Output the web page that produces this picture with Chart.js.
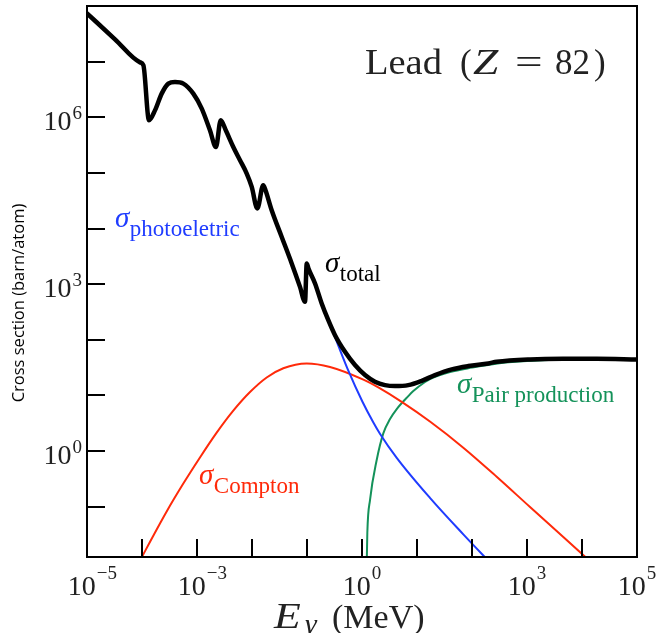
<!DOCTYPE html>
<html>
<head>
<meta charset="utf-8">
<script src="https://cdn.jsdelivr.net/npm/chart.js@4.4.1/dist/chart.umd.min.js"></script>
<style>
html,body{margin:0;padding:0;background:#fff;overflow:hidden}
#c{display:block}
</style>
</head>
<body>
<canvas id="c" width="661" height="633" style="width:661px;height:633px"></canvas>
<script>
// ---- axes ----
const xRange = [1e-5, 1e5];
const yRange = [0.01245, 1e8];
const xTickValues = [1e-4, 1e-3, 1e-2, 1e-1, 1e0, 1e1, 1e2, 1e3, 1e4];
const yTickValues = [1e-1, 1e0, 1e1, 1e2, 1e3, 1e4, 1e5, 1e6, 1e7];
const xLabelExponents = [-5, -3, 0, 3, 5];
const yLabelExponents = [0, 3, 6];

// ---- series (energy in MeV, cross section in barn/atom) ----
const totalEnergy = [1e-5, 3.23e-5, 9.20e-5, 1.06e-4, 1.34e-4, 1.72e-4, 2.28e-4, 3.01e-4, 3.98e-4, 5.64e-4,
  8.57e-4, 1.22e-3, 1.72e-3, 2.21e-3, 2.70e-3, 3.37e-3, 4.57e-3, 6.05e-3, 8.02e-3, 9.89e-3,
  1.25e-2, 1.60e-2, 1.76e-2, 2.28e-2, 3.47e-2, 5.27e-2, 7.46e-2, 9.20e-2, 9.89e-2, 0.1064,
  0.140, 0.185, 0.244, 0.323, 0.491, 0.746, 1.135, 1.72, 2.62, 3.98,
  6.95, 12.2, 21.2, 42.8, 85.7, 198, 281, 1135, 4520, 18500, 1e5];
const totalSigma = [7.38e7, 2.52e7, 9.72e6, 8.59e6, 8.83e5, 1.33e6, 2.66e6, 4.03e6, 4.31e6, 4.03e6,
  2.66e6, 1.43e6, 5.83e5, 2.92e5, 8.83e5, 5.71e5, 2.92e5, 1.69e5, 9.73e4, 5.60e4,
  2.29e4, 6.00e4, 4.88e4, 2.13e4, 7.06e3, 2.36e3, 893, 481, 2360, 1900,
  1028, 450, 225, 121, 60.8, 35.1, 23.2, 17.6, 15.3, 14.7,
  15.3, 18.3, 23.2, 29.4, 33.7, 37.6, 40.2, 44.4, 45.5, 45.5, 44.4];

const photoEnergy = [9.89e-2, 0.140, 0.185, 0.244, 0.371, 0.564, 1.02, 1.60, 2.12, 4.28, 17.2, 69.5, 177, 323];
const photoSigma  = [2355, 964, 469, 230, 78.5, 27.9, 7.69, 3.29, 2.05, 0.755, 0.144, 0.0318, 0.0120, 0.00646];

const comptonEnergy = [8.32e-5, 9.89e-5, 2.81e-4, 5.64e-4, 1.14e-3, 2.28e-3, 4.57e-3, 9.20e-3, 1.85e-2, 3.71e-2,
  9.89e-2, 0.262, 1.06, 1.98, 5.27, 17.2, 69.5, 281, 1135, 4571, 11670, 15850];
const comptonSigma = [8.9e-3, 0.0123, 0.0819, 0.260, 0.774, 2.14, 5.32, 11.5, 21.0, 30.8,
  37.6, 32.5, 19.2, 13.9, 7.65, 3.39, 1.15, 0.345, 0.0986, 0.0285, 0.0123, 0.00933];

const pairEnergy = [1.21, 1.25, 1.40, 1.85, 2.44, 3.23, 4.28, 6.95, 8.57, 14.0, 17.2, 39.8, 100, 316, 1000, 1e4, 1e5];
const pairSigma  = [0.00631, 0.0339, 0.132, 0.689, 2.08, 3.76, 5.68, 9.72, 12.0, 17.4, 19.7, 26.3, 31.6, 38.0, 41.7, 44.2, 43.7];

// ---- styles ----
const BLUE = '#1f3cff', RED = '#ff2a0a', GREEN = '#14925a';
const SERIF = '"Liberation Serif", "Times New Roman", serif';

function series(E, S, color, width) {
  return {
    data: E.map((e, i) => ({x: e, y: S[i]})),
    borderColor: color, borderWidth: width, fill: false,
    pointRadius: 0, tension: 0.4,
    cubicInterpolationMode: 'monotone',
    borderJoinStyle: 'round', borderCapStyle: 'round', clip: 0
  };
}

function drawPow(ctx, exp, x, baseY, expY, align) {
  const base = '10';
  const expStr = exp < 0 ? '\u2212' + Math.abs(exp) : String(exp);
  const digits = String(Math.abs(exp));
  ctx.font = '28px ' + SERIF;
  const wb = ctx.measureText(base).width;
  ctx.font = '19px ' + SERIF;
  const wd = ctx.measureText(digits).width;
  const wFull = ctx.measureText(expStr).width;
  let start;
  if (align === 'center') start = x - (wb + 1 + wd) / 2;
  else start = x - (wb + 1 + wFull);
  ctx.textAlign = 'left';
  ctx.textBaseline = 'alphabetic';
  ctx.font = '28px ' + SERIF;
  ctx.fillText(base, start, baseY);
  ctx.font = '19px ' + SERIF;
  ctx.fillText(expStr, start + wb + 1, expY);
}

function drawWide(ctx, text, x, y, font, sx) {
  ctx.save();
  ctx.font = font;
  ctx.translate(x, y);
  ctx.scale(sx, 1);
  ctx.fillText(text, 0, 0);
  ctx.restore();
}

function drawSigma(ctx, x, y, sub, color) {
  ctx.fillStyle = color;
  ctx.textAlign = 'left';
  ctx.textBaseline = 'alphabetic';
  ctx.font = 'italic 29px ' + SERIF;
  ctx.fillText('\u03c3', x, y);
  const w = ctx.measureText('\u03c3').width;
  ctx.font = '23px ' + SERIF;
  ctx.fillText(sub, x + w + 0.5, y + 9);
}

const axesPlugin = {
  id: 'axesBox',
  afterDraw(chart) {
    const {ctx, chartArea: a, scales: {x, y}} = chart;
    ctx.save();
    ctx.strokeStyle = '#000';
    ctx.lineWidth = 2;
    ctx.strokeRect(a.left, a.top, a.right - a.left, a.bottom - a.top);
    ctx.beginPath();
    xTickValues.forEach(v => {
      const px = Math.round(x.getPixelForValue(v));
      ctx.moveTo(px, a.bottom); ctx.lineTo(px, a.bottom - 18);
    });
    yTickValues.forEach(v => {
      const py = Math.round(y.getPixelForValue(v));
      ctx.moveTo(a.left, py); ctx.lineTo(a.left + 18, py);
    });
    ctx.stroke();

    ctx.fillStyle = '#222';
    xLabelExponents.forEach(e => {
      const px = x.getPixelForValue(Math.pow(10, e));
      drawPow(ctx, e, px, a.bottom + 38, a.bottom + 22, 'center');
    });
    yLabelExponents.forEach(e => {
      const py = y.getPixelForValue(Math.pow(10, e));
      drawPow(ctx, e, a.left - 5, py + 13, py + 2, 'right');
    });

    // x axis title
    ctx.fillStyle = '#222';
    ctx.textAlign = 'left';
    ctx.textBaseline = 'alphabetic';
    drawWide(ctx, 'E', 274, 628, 'italic 35px ' + SERIF, 1.25);
    drawWide(ctx, '\u03b3', 305, 633, 'italic 27px ' + SERIF, 1.1);
    drawWide(ctx, '(MeV)', 332, 628, '34px ' + SERIF, 1.0);

    // y axis title
    ctx.save();
    ctx.translate(24, 303);
    ctx.rotate(-Math.PI / 2);
    ctx.textAlign = 'center';
    ctx.font = '16.5px "Open Sans", sans-serif';
    ctx.fillStyle = '#000';
    ctx.fillText('Cross section (barn/atom)', 0, 0);
    ctx.restore();

    // element label
    ctx.fillStyle = '#222';
    ctx.textAlign = 'left';
    drawWide(ctx, 'Lead', 365, 74, '35px ' + SERIF, 1.1);
    drawWide(ctx, '(', 460, 74, '35px ' + SERIF, 1.0);
    drawWide(ctx, 'Z', 473, 74, 'italic 35px ' + SERIF, 1.3);
    drawWide(ctx, '=', 515, 74, '35px ' + SERIF, 1.4);
    drawWide(ctx, '82', 555, 74, '35px ' + SERIF, 1.0);
    drawWide(ctx, ')', 594, 74, '35px ' + SERIF, 1.0);

    drawSigma(ctx, 115, 227, 'photoeletric', BLUE);
    drawSigma(ctx, 325, 272, 'total', '#000');
    drawSigma(ctx, 199, 484, 'Compton', RED);
    drawSigma(ctx, 457, 393, 'Pair production', GREEN);
    ctx.restore();
  }
};

new Chart(document.getElementById('c'), {
  type: 'line',
  data: {
    datasets: [
      series(totalEnergy, totalSigma, '#000', 4.5),
      series(photoEnergy, photoSigma, BLUE, 2),
      series(comptonEnergy, comptonSigma, RED, 2),
      series(pairEnergy, pairSigma, GREEN, 2)
    ]
  },
  options: {
    responsive: false,
    animation: false,
    devicePixelRatio: 1,
    layout: {padding: {left: 87, top: 6, right: 24, bottom: 76}},
    plugins: {legend: {display: false}, tooltip: {enabled: false}},
    scales: {
      x: {type: 'logarithmic', min: xRange[0], max: xRange[1], display: false},
      y: {type: 'logarithmic', min: yRange[0], max: yRange[1], display: false}
    }
  },
  plugins: [axesPlugin]
});
</script>
</body>
</html>
